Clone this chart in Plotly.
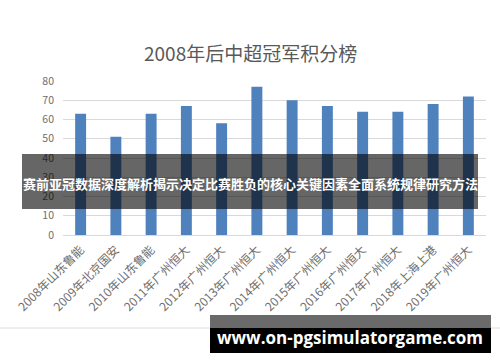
import plotly.graph_objects as go

categories = ["2008年山东鲁能", "2009年北京国安", "2010年山东鲁能", "2011年广州恒大",
              "2012年广州恒大", "2013年广州恒大", "2014年广州恒大", "2015年广州恒大",
              "2016年广州恒大", "2017年广州恒大", "2018年上海上港", "2019年广州恒大"]
points = [63, 51, 63, 67, 58, 77, 70, 67, 64, 64, 68, 72]
y_ticks = [0, 10, 20, 30, 40, 50, 60, 70, 80]

title_text = "2008年后中超冠军积分榜"
banner_text = "赛前亚冠数据深度解析揭示决定比赛胜负的核心关键因素全面系统规律研究方法"
watermark_text = "www.on-pgsimulatorgame.com"

W, H = 500, 362
L, R, T, B = 63, 14, 81, 127

fig = go.Figure()
fig.add_trace(go.Bar(x=categories, y=points, marker=dict(color="#4f81bd", line=dict(width=0)),
                     hoverinfo="x+y"))

fig.update_layout(
    width=W, height=H,
    margin=dict(l=L, r=R, t=T, b=B, pad=0),
    paper_bgcolor="white", plot_bgcolor="white",
    showlegend=False,
    bargap=0.69,
    font=dict(family="Noto Sans CJK SC, sans-serif", color="#595959"),
    xaxis=dict(tickangle=-45, tickfont=dict(size=12, color="#6e6e6e"),
               showgrid=False, showline=True, linecolor="#d9d9d9", linewidth=1,
               ticks="", ticklabelstandoff=2, fixedrange=True),
    yaxis=dict(range=[0, 80], tickvals=y_ticks, tickfont=dict(size=10.5, color="#6e6e6e"),
               showgrid=True, gridcolor="#d9d9d9", gridwidth=1, zeroline=False,
               showline=False, ticks="", ticklabelstandoff=8, fixedrange=True),
)

def px_x(x):
    return (x - L) / (W - L - R)

def px_y(y):
    return (H - B - y) / (H - T - B)

# Title
fig.add_annotation(text=title_text, xref="paper", yref="paper",
                   x=px_x(250), y=px_y(52),
                   xanchor="center", yanchor="middle", showarrow=False,
                   font=dict(size=19, color="#595959", family="Noto Sans CJK SC, sans-serif"))

# Faint border line of original image
fig.add_shape(type="line", xref="paper", yref="paper", x0=px_x(0), x1=px_x(500),
              y0=px_y(328), y1=px_y(328), line=dict(color="#dcdcdc", width=1), layer="above")

# Dark translucent banner
fig.add_shape(type="rect", xref="paper", yref="paper", x0=px_x(22), x1=px_x(478),
              y0=px_y(209), y1=px_y(154), fillcolor="rgba(0,0,0,0.6)", line=dict(width=0),
              layer="above")
fig.add_annotation(text="<b>" + banner_text + "</b>", xref="paper", yref="paper",
                   x=px_x(250), y=px_y(183), xanchor="center", yanchor="middle", showarrow=False,
                   font=dict(size=13, color="white", family="Noto Sans CJK SC, sans-serif"))

# Watermark box
fig.add_shape(type="rect", xref="paper", yref="paper", x0=px_x(210), x1=px_x(491),
              y0=px_y(328), y1=px_y(315), fillcolor="#6a6a6a", line=dict(width=0), layer="above")
fig.add_shape(type="rect", xref="paper", yref="paper", x0=px_x(210), x1=px_x(491),
              y0=px_y(353), y1=px_y(328), fillcolor="#000000", line=dict(width=0), layer="above")
fig.add_annotation(text="<b>" + watermark_text + "</b>", xref="paper", yref="paper",
                   x=px_x(350), y=px_y(337), xanchor="center", yanchor="middle", showarrow=False,
                   font=dict(size=17, color="white", family="Open Sans, sans-serif"))

fig.write_html("out.html")
